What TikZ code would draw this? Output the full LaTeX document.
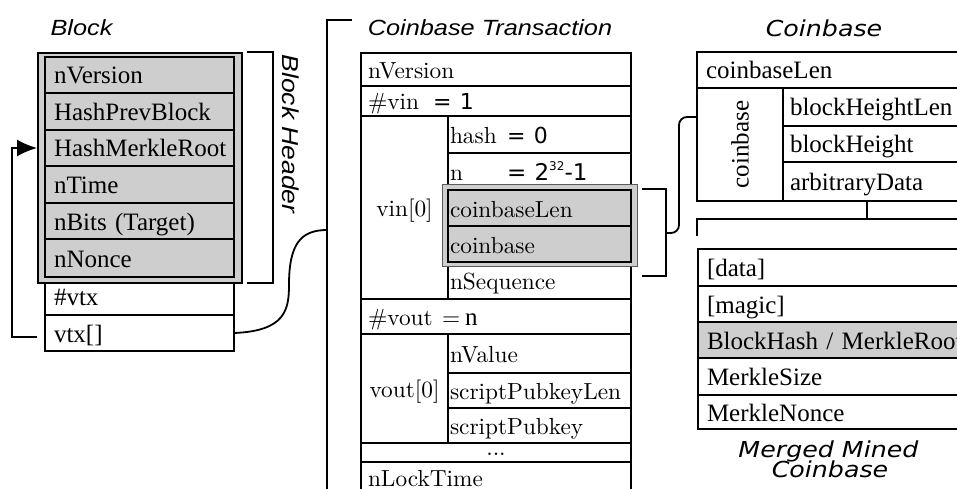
\documentclass[tikz,border=0pt]{standalone}
\usepackage{fontspec}
\usepackage{graphicx}
\usetikzlibrary{arrows.meta}

\newfontfamily\libserif{Liberation Serif}
\newfontfamily\libsans{Liberation Sans}
\newfontfamily\djsans{DejaVu Sans}
\definecolor{cellgray}{RGB}{206,206,206}
\definecolor{edgegray}{RGB}{90,90,90}

% Latin Modern at its 10pt design size, enlarged
\newcommand\lmtxt[1]{\scalebox{2.33}{\fontsize{10}{12}\selectfont\rmfamily #1}}
% headings are set slightly extended
\newcommand\wide[1]{\scalebox{1.15}[1]{#1}}
% one table cell: [left padding]{name}{x}{y}{width}{height}{extra style}{text}
\newcommand\fieldcell[8][9]{%
  \node[cell,#7,minimum height=#6pt,text width=\the\numexpr#5-2*#1\relax pt,inner xsep=#1pt] (#2) at (#3,#4) {\mbox{#8}};}

\begin{document}
\begin{tikzpicture}[x=1pt,y=-1pt,
  every node/.style={font=\libserif\fontsize{25}{30}\selectfont},
  cell/.style={draw=black, line width=1.8pt, fill=white, anchor=north west,
    outer sep=0pt, inner ysep=0pt, text height=18pt, text depth=0pt, align=left},
  shaded/.style={fill=cellgray},
  link/.style={draw=black, line width=1.8pt},
  title/.style={font=\libsans\itshape\fontsize{22}{26}\selectfont, inner sep=0pt, anchor=base},
  titledj/.style={font=\djsans\itshape\fontsize{22}{26}\selectfont, inner sep=0pt, anchor=base},
]
\useasboundingbox (0,0) rectangle (957,489);
\clip (0,0) rectangle (957,489);

% ---------------- Block ----------------
\node[title] (tblock) at (81.5,36) {\wide{Block}};
\fieldcell{vcount}{45}{277}{189}{38}{}{\#vtx}
\fieldcell{vtx}{45}{315}{189}{36}{}{vtx[]}
\node[draw=black, line width=2pt, fill=cellgray, anchor=north west, inner sep=0pt,
  minimum width=204pt, minimum height=230pt] (hdr) at (37,52) {};
\fieldcell{bver}{45}{57}{189}{36}{shaded}{nVersion}
\fieldcell{bprev}{45}{93}{189}{37}{shaded}{HashPrevBlock}
\fieldcell{bmerkle}{45}{130}{189}{36}{shaded}{HashMerkleRoot}
\fieldcell{btime}{45}{166}{189}{37}{shaded}{nTime}
\fieldcell{bbits}{45}{203}{189}{36}{shaded}{nBits (Target)}
\fieldcell{bnonce}{45}{239}{189}{38}{shaded}{nNonce}

% header bracket
\coordinate (hbtop) at (247,52);
\coordinate (hbbot) at (247,283);
\draw[link] (hbtop) -- ++(26,0) |- (hbbot);
\node[title, anchor=center, rotate=-90, font=\libsans\itshape\fontsize{23}{26}\selectfont] (thdr) at (291,134) {\wide{Block Header}};

% vtx[] points back to the merkle root
\draw[link, -{Latex[length=20pt,width=17pt]}] ([xshift=-8pt,yshift=-4pt]vtx.west) -- ++(-25,0)
  |- (bmerkle.west -| hdr.west);

% ---------------- Coinbase transaction ----------------
\node[title] (ttx) at (490,36) {\wide{Coinbase Transaction}};
\coordinate (txbrtop) at (352,20);
\coordinate (txbrbot) at (327,500);
\coordinate (txbr) at (327,230);
\draw[link] (txbrtop) -| (txbrbot);
\draw[link] (vtx.east) .. controls (285,331) and (289,310) .. (289,285)
  .. controls (289,245) and (300,230) .. (txbr);

\fieldcell[7]{tver}{361}{53}{270}{33}{}{\lmtxt{nVersion}}
\fieldcell[7]{tvin}{361}{86}{270}{30}{}{\makebox[65pt][l]{\lmtxt{\#vin}}{\djsans\fontsize{22}{26}\selectfont= 1}}
\fieldcell[0]{tvinl}{361}{116}{87}{183}{align=center}{\lmtxt{vin[0]}}
\fieldcell[2]{thash}{448}{116}{183}{37}{}{\makebox[57pt][l]{\lmtxt{hash}}{\djsans\fontsize{22}{26}\selectfont= 0}}
\fieldcell[2]{tn}{448}{153}{183}{37}{}{\makebox[57pt][l]{\lmtxt{n}}{\djsans\fontsize{23}{26}\selectfont= 2\raisebox{10pt}{\fontsize{12}{12}\selectfont 32}-1}}
\fieldcell[2]{tseq}{448}{262}{183}{37}{}{\lmtxt{nSequence}}
\node[draw=edgegray, line width=1.4pt, fill=cellgray, anchor=north west, inner sep=0pt,
  minimum width=195pt, minimum height=82pt] (hl) at (442,184) {};
\fieldcell[2]{tcblen}{448}{190}{183}{36}{shaded}{\lmtxt{coinbaseLen}}
\fieldcell[2]{tcb}{448}{226}{183}{36}{shaded}{\lmtxt{coinbase}}
\fieldcell[7]{tvout}{361}{299}{270}{35}{}{\makebox[74pt][l]{\lmtxt{\#vout}}\makebox[23pt][l]{\lmtxt{=}}n}
\fieldcell[0]{tvoutl}{361}{334}{87}{109}{align=center}{\lmtxt{vout[0]}}
\fieldcell[2]{tval}{448}{334}{183}{39}{}{\lmtxt{nValue}}
\fieldcell[2]{tspkl}{448}{373}{183}{35}{}{\lmtxt{scriptPubkeyLen}}
\fieldcell[2]{tspk}{448}{408}{183}{35}{}{\lmtxt{scriptPubkey}}
\fieldcell[0]{tdots}{361}{443}{270}{19}{align=center,text height=5pt}{\lmtxt{...}}
\fieldcell[7]{tlock}{361}{462}{270}{30}{}{\lmtxt{nLockTime}}

% bracket round the coinbase fields
\coordinate (cbbtop) at (642,189);
\coordinate (cbbbot) at (642,276);
\coordinate (cbbmid) at (666,233);
\draw[link] (cbbtop) -- ++(24,0) |- (cbbbot);

% ---------------- Coinbase ----------------
\node[titledj] (tcbase) at (824,37) {\wide{Coinbase}};
\fieldcell{cblen}{697}{52}{290}{36}{}{coinbaseLen}
\fieldcell[0]{cbrot}{697}{88}{86}{113}{}{}
\node[rotate=90, inner sep=0pt] (cbrottxt) at (cbrot.center) {coinbase};
\fieldcell[7]{cbhl}{783}{88}{204}{38}{}{blockHeightLen}
\fieldcell[7]{cbh}{783}{126}{204}{36}{}{blockHeight}
\fieldcell[7]{cbad}{783}{162}{204}{39}{}{arbitraryData}
\draw[link, rounded corners=8pt] (cbbmid) -- (679,233) -- (679,117) -- ([yshift=-29pt]cbrot.north west);

% bracket over the merged-mining fields
\coordinate (mmleft) at (697,236);
\coordinate (mmbar) at (697,219);
\coordinate (mmright) at (995,219);
\draw[link] ([xshift=-18pt]cbad.south) -- ++(0,18);
\draw[link] (mmleft) -- (mmbar) -- (mmright);

% ---------------- Merged mined coinbase ----------------
\fieldcell{mdata}{698}{249}{290}{37}{}{[data]}
\fieldcell{mmagic}{698}{286}{290}{36}{}{[magic]}
\fieldcell{mroot}{698}{322}{290}{36}{shaded}{BlockHash / MerkleRoot}
\fieldcell{msize}{698}{358}{290}{37}{}{MerkleSize}
\fieldcell{mnonce}{698}{395}{290}{34}{}{MerkleNonce}
\node[titledj] (tmm1) at (828.5,457) {\wide{Merged Mined}};
\node[titledj] (tmm2) at (830,477) {\wide{Coinbase}};
\end{tikzpicture}
\end{document}
